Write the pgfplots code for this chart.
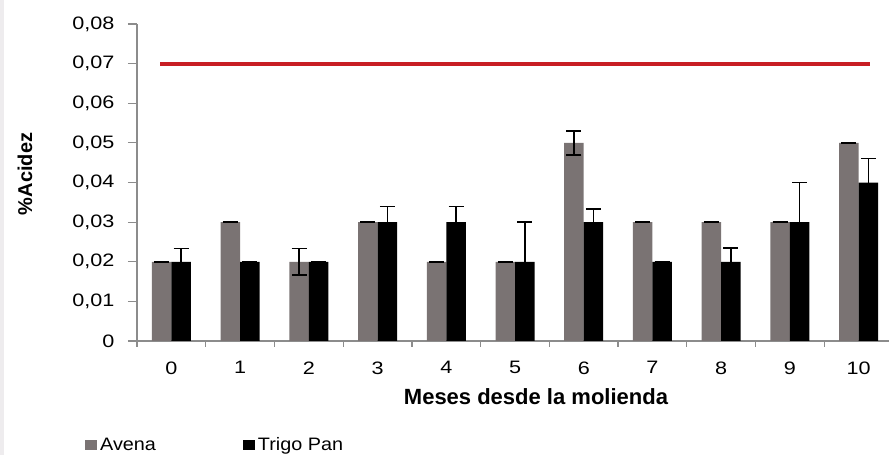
\documentclass[border=0pt]{standalone}
\usepackage{fontspec}
\setmainfont{Liberation Sans}
\newfontfamily\tickfont[FakeStretch=1.2]{Liberation Sans}
\newfontfamily\legfont[FakeStretch=1.1]{Liberation Sans}
\usepackage{pgfplots}
\usepackage{pgfplotstable}
\pgfplotsset{compat=1.18}

\definecolor{avgray}{RGB}{122,115,115}
\definecolor{axisgray}{RGB}{140,140,140}
\definecolor{limred}{RGB}{200,30,36}
\definecolor{edgegray}{RGB}{238,236,238}

% month  mean  error
\pgfplotstableread{
x y e
0 0.02 0
1 0.03 0
2 0.02 0.0033
3 0.03 0
4 0.02 0
5 0.02 0
6 0.05 0.003
7 0.03 0
8 0.03 0
9 0.03 0
10 0.05 0
}\avena

\pgfplotstableread{
x y e
0 0.02 0.0033
1 0.02 0
2 0.02 0
3 0.03 0.004
4 0.03 0.004
5 0.02 0.01
6 0.03 0.0033
7 0.02 0
8 0.02 0.0035
9 0.03 0.01
10 0.04 0.006
}\trigo

\begin{document}
\begin{tikzpicture}[x=1pt,y=1pt]
\path[use as bounding box] (0,0) rectangle (889,455);
\fill[edgegray] (0,0) rectangle (4,455);
\begin{axis}[
  at={(137pt,114pt)}, anchor=south west,
  scale only axis, width=756pt, height=317pt,
  xmin=-0.5, xmax=10.5, ymin=0, ymax=0.08,
  axis x line*=bottom, axis y line*=left,
  axis line style={draw=axisgray, line width=1.5pt, -},
  tick align=outside,
  tick style={draw=axisgray, line width=1.2pt},
  major tick length=9pt,
  scaled y ticks=false,
  ytick={0,0.01,0.02,0.03,0.04,0.05,0.06,0.07,0.08},
  yticklabels={0,{0,01},{0,02},{0,03},{0,04},{0,05},{0,06},{0,07},{0,08}},
  yticklabel style={font=\tickfont\fontsize{18}{20}\selectfont, xshift=-10pt},
  xtick={-0.5,0.5,1.5,2.5,3.5,4.5,5.5,6.5,7.5,8.5,9.5},
  xticklabels={0,1,2,3,4,5,6,7,8,9,10},
  xticklabel style={font=\tickfont\fontsize{18}{20}\selectfont, xshift=34.4pt, yshift=-8pt},
  x tick style={/pgfplots/major tick length=6pt},
  ybar=0pt, bar width=19.5pt,
  error bars/error bar style={black, line width=1.5pt},
  error bars/error mark options={rotate=90, black, line width=1.5pt, mark size=7.5pt},
  legend style={at={(rel axis cs:-0.0688,-0.328)}, anchor=west,
    draw=none, fill=none, inner sep=0pt,
    font=\legfont\fontsize{18}{20}\selectfont,
    nodes={inner sep=3pt},
    legend columns=2,
    /tikz/every even column/.append style={column sep=84pt}},
  clip=false,
]
\addplot[draw=none, fill=avgray,
  legend image code/.code={\fill[avgray] (0pt,-5pt) rectangle (12pt,5pt);},
  error bars/.cd, y dir=both, y explicit]
  table[x=x, y=y, y error=e]{\avena};
\addlegendentry{Avena}
\addplot[draw=none, fill=black,
  legend image code/.code={\fill[black] (0pt,-5pt) rectangle (12pt,5pt);},
  error bars/.cd, y dir=both, y explicit]
  table[x=x, y=y, y error=e]{\trigo};
\addlegendentry{Trigo Pan}
% acidity limit
\addplot[sharp plot, limred, line width=4pt, forget plot, mark=none]
  coordinates {(-0.16,0.07) (10.16,0.07)};
\end{axis}
\node[font=\bfseries\fontsize{22}{24}\selectfont] at (536,58) {Meses desde la molienda};
\node[font=\bfseries\fontsize{20}{22}\selectfont, rotate=90] at (25,281) {\%Acidez};
\end{tikzpicture}
\end{document}
